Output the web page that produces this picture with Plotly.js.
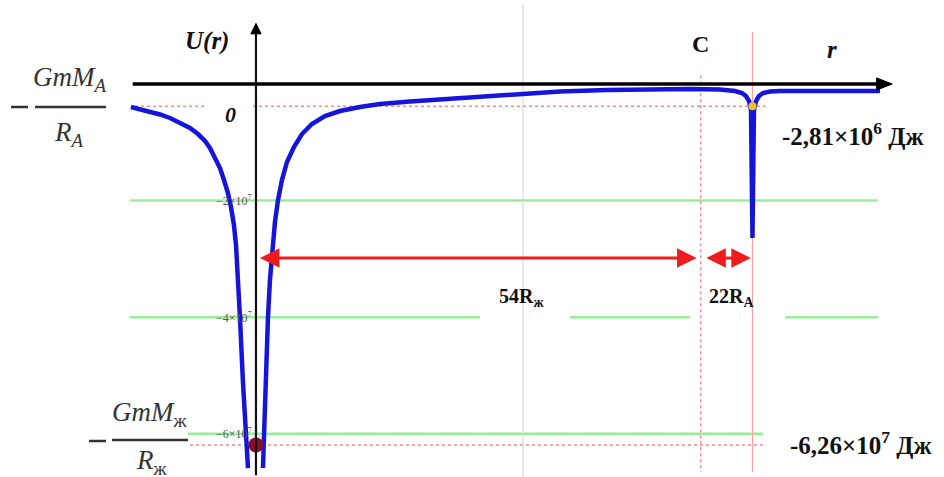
<!DOCTYPE html>
<html>
<head>
<meta charset="utf-8">
<script src="https://cdn.plot.ly/plotly-3.0.1.min.js"></script>
<style>html,body{margin:0;padding:0;background:#fff;}#chart{width:944px;height:477px;}</style>
</head>
<body>
<div id="chart"></div>
<script>
// r in units of R_ж (planet radius), U in units of 10^7 J
const rLeft  = [-15.21, -14.11, -12.90, -11.68, -10.46, -9.25, -8.03, -7.06, -6.20, -5.60, -4.99, -4.38, -3.89, -3.41, -3.04, -2.68, -2.43, -2.19, -1.95, -1.58, -1.22, -0.97];
const ULeft  = [-0.395, -0.429, -0.472, -0.523, -0.583, -0.660, -0.755, -0.858, -0.978, -1.098, -1.252, -1.441, -1.647, -1.870, -2.110, -2.419, -2.762, -3.276, -3.997, -5.129, -6.106, -6.587];
const rRight = [0.85, 0.97, 1.09, 1.46, 1.70, 1.95, 2.31, 2.68, 3.16, 3.77, 4.62, 5.60, 6.81, 8.39, 10.22, 12.65, 15.09, 18.73, 22.38, 27.25, 32.48, 36.98, 42.70, 47.93, 52.80, 56.45, 58.27, 59.12, 59.61, 59.98, 60.22, 60.40, 60.58, 60.83, 61.19, 61.68, 62.53, 63.75, 75.91];
const URight = [-6.587, -6.106, -5.129, -3.997, -3.362, -2.847, -2.367, -1.990, -1.647, -1.338, -1.081, -0.858, -0.686, -0.549, -0.463, -0.395, -0.343, -0.300, -0.266, -0.214, -0.163, -0.129, -0.103, -0.086, -0.086, -0.094, -0.120, -0.154, -0.206, -0.292, -0.446, -2.642, -0.446, -0.292, -0.206, -0.154, -0.129, -0.120, -0.120];

const rC = 54.1;        // point C
const rA = 60.4;        // body A
const UA = -0.38;       // -GmM_A/R_A level (drawn)
const UJ = -6.19;       // -GmM_ж/R_ж level (drawn)
const gridVals = [-2, -4, -6];
const gridLabels = ["−2×10<sup>7</sup>", "−4×10<sup>7</sup>", "−6×10<sup>7</sup>"];
const arrowU = -2.985;

const X0 = -31.14, X1 = 83.70, Y0 = -6.741, Y1 = 1.441;
const W = 944, H = 477;
const px = p => p / W, py = p => 1 - p / H;

const traces = [
  {x: rLeft.concat([null], rRight), y: ULeft.concat([null], URight), mode: 'lines',
   line: {color: '#1414dc', width: 4.5, shape: 'linear'}, connectgaps: false, hoverinfo: 'skip'},
  {x: [0], y: [UJ], mode: 'markers', marker: {color: '#8c0a28', size: 15}, hoverinfo: 'skip'},
  {x: [rA], y: [UA], mode: 'markers', marker: {color: '#f0c419', size: 8}, hoverinfo: 'skip'}
];

const green = '#98ee98';
const shapes = [
  {type:'line', x0:-15.33, x1:75.67, y0:gridVals[0], y1:gridVals[0], line:{color:green, width:2.5}, layer:'below'},
  {type:'line', x0:-15.33, x1:27.25, y0:gridVals[1], y1:gridVals[1], line:{color:green, width:2.5}, layer:'below'},
  {type:'line', x0:38.20, x1:52.80, y0:gridVals[1], y1:gridVals[1], line:{color:green, width:2.5}, layer:'below'},
  {type:'line', x0:64.36, x1:75.67, y0:gridVals[1], y1:gridVals[1], line:{color:green, width:2.5}, layer:'below'},
  {type:'line', x0:-8.27, x1:61.70, y0:gridVals[2], y1:gridVals[2], line:{color:green, width:2.5}, layer:'below'},
  {type:'line', x0:32.48, x1:32.48, y0:Y0, y1:1.36, line:{color:'#d4d4d4', width:1}, layer:'below'},
  {type:'line', x0:-14.7, x1:-6.0, y0:UA, y1:UA, line:{color:'#f09080', width:1.5, dash:'dot'}, layer:'below'},
  {type:'line', x0:-0.36, x1:62.0, y0:UA, y1:UA, line:{color:'#f09080', width:1.5, dash:'dot'}, layer:'below'},
  {type:'line', x0:-8.03, x1:61.9, y0:UJ, y1:UJ, line:{color:'#f08a8a', width:1.5, dash:'dot'}, layer:'below'},
  {type:'line', x0:rC, x1:rC, y0:0.15, y1:-6.66, line:{color:'#f08a8a', width:1.5, dash:'dot'}, layer:'below'},
  {type:'line', x0:rA, x1:rA, y0:0.89, y1:-6.66, line:{color:'#f4a4a4', width:1.2}, layer:'below'},
  {type:'line', x0:-15.0, x1:75.8, y0:0, y1:0, line:{color:'#000', width:3.5}},
  {type:'path', path:'M 75.5 0.105 L 77.4 0 L 75.5 -0.105 Z', fillcolor:'#000', line:{color:'#000', width:1}},
  {type:'line', x0:0, x1:0, y0:-6.71, y1:0.9, line:{color:'#111', width:2.2}},
  {type:'path', path:'M -0.62 0.86 L 0 1.04 L 0.62 0.86 Z', fillcolor:'#000', line:{color:'#000', width:1}},
  {type:'line', xref:'paper', yref:'paper', x0:px(35), x1:px(106), y0:py(107), y1:py(107), line:{color:'#333', width:2.5}},
  {type:'line', xref:'paper', yref:'paper', x0:px(11), x1:px(28), y0:py(107), y1:py(107), line:{color:'#333', width:2.5}},
  {type:'line', xref:'paper', yref:'paper', x0:px(112), x1:px(188), y0:py(440), y1:py(440), line:{color:'#333', width:2.5}},
  {type:'line', xref:'paper', yref:'paper', x0:px(89), x1:px(106), y0:py(441), y1:py(441), line:{color:'#333', width:2.5}}
];

const serif = 'Liberation Serif';
function txt(x, y, text, size, opts) {
  return Object.assign({xref:'paper', yref:'paper', x:px(x), y:py(y), text:text, showarrow:false,
    xanchor:'center', yanchor:'middle', font:{family:serif, size:size, color:'#111'}}, opts || {});
}
const fr = {family:serif, size:27, color:'#333'};
const annotations = [
  txt(207, 41, '<b><i>U(r)</i></b>', 25),
  txt(230, 115, '<b><i>0</i></b>', 22),
  txt(700, 44, '<b>C</b>', 24),
  txt(832, 49, '<b><i>r</i></b>', 25),
  txt(780, 134, '<b>-2,81×10<sup>6</sup> Дж</b>', 25, {xanchor:'left'}),
  txt(788, 443, '<b>-6,26×10<sup>7</sup> Дж</b>', 25, {xanchor:'left'}),
  txt(521, 297, '<b>54R<sub>ж</sub></b>', 20),
  txt(731, 297, '<b>22R<sub>A</sub></b>', 20),
  txt(70, 79, '<i>GmM<sub>A</sub></i>', 27, {font:fr}),
  txt(69, 134, '<i>R<sub>A</sub></i>', 27, {font:fr}),
  txt(150, 414, '<i>GmM</i><sub>ж</sub>', 27, {font:fr}),
  txt(152, 462, '<i>R</i><sub>ж</sub>', 27, {font:fr}),
  {x:53.6, y:arrowU, ax:0.3, ay:arrowU, xref:'x', yref:'y', axref:'x', ayref:'y', text:'', showarrow:true,
   arrowside:'end+start', arrowhead:2, startarrowhead:2, arrowsize:1.3, startarrowsize:1.3, arrowwidth:3, arrowcolor:'#ee1c1c'},
  {x:60.2, y:arrowU, ax:54.6, ay:arrowU, xref:'x', yref:'y', axref:'x', ayref:'y', text:'', showarrow:true,
   arrowside:'end+start', arrowhead:2, startarrowhead:2, arrowsize:1.3, startarrowsize:1.3, arrowwidth:3, arrowcolor:'#ee1c1c'}
];
gridVals.forEach((v, i) => {
  annotations.push({x:-0.2, y:v, xref:'x', yref:'y', text:gridLabels[i], showarrow:false, xanchor:'right', yanchor:'middle',
    font:{family:serif, size:12, color:'#555'}});
});

const layout = {
  width: W, height: H, margin: {l:0, r:0, t:0, b:0},
  paper_bgcolor: '#fff', plot_bgcolor: '#fff', showlegend: false,
  xaxis: {range:[X0, X1], visible:false, fixedrange:true},
  yaxis: {range:[Y0, Y1], visible:false, fixedrange:true},
  shapes: shapes, annotations: annotations
};
Plotly.newPlot('chart', traces, layout, {displayModeBar:false, staticPlot:true});
</script>
</body>
</html>
